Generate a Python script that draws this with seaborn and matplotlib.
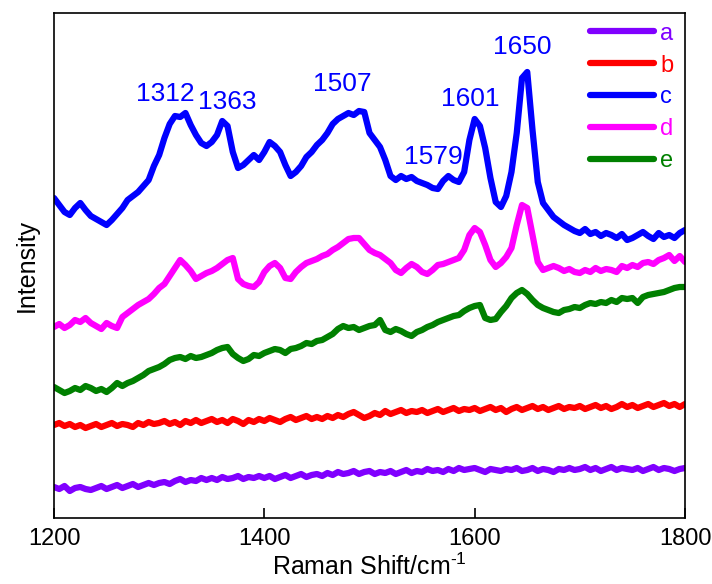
import numpy as np
import pandas as pd
import matplotlib
matplotlib.use("Agg")
import matplotlib.pyplot as plt
import seaborn as sns

# Raman shift grid (cm^-1)
raman_shift = np.arange(1200, 1801, 5)

# Intensities (a.u.)
a_vals = [33,31,34,29,32,33,31,30,32,34,
          31,33,35,32,34,36,33,35,37,35,
          37,38,36,39,41,38,40,39,42,40,
          42,40,43,41,42,44,41,43,42,44,
          42,44,41,43,45,42,44,46,43,45,
          46,44,47,45,48,46,47,49,46,48,
          49,46,48,47,49,46,48,50,47,49,
          48,51,49,50,48,51,49,52,50,51,
          52,50,48,51,50,49,51,50,52,49,
          50,52,49,51,50,48,51,50,52,50,
          51,53,50,52,49,51,53,50,52,51,
          50,52,49,51,53,50,52,51,49,51,
          52]
b_vals = [95,97,94,96,93,95,92,94,96,93,
          95,97,94,96,95,93,97,95,98,96,
          97,99,96,98,95,99,97,100,97,99,
          101,98,100,97,101,99,96,100,98,101,
          99,102,100,98,101,103,100,102,104,101,
          103,101,104,102,105,103,106,108,105,102,
          104,107,105,109,106,108,110,107,109,108,
          110,107,109,111,108,110,112,109,111,110,
          112,109,111,113,110,112,108,111,113,110,
          112,114,111,113,110,112,114,111,113,112,
          114,111,113,115,112,114,111,113,116,113,
          115,112,114,116,113,115,117,114,116,113,
          116]
c_vals = [322,315,308,305,312,317,310,304,301,298,
          295,300,306,312,320,324,328,334,340,354,
          365,382,396,404,403,407,395,385,377,374,
          378,385,399,394,368,352,355,360,365,360,
          368,378,374,368,355,344,348,354,363,368,
          375,380,387,396,401,404,407,405,409,408,
          387,380,373,360,344,340,344,341,343,339,
          337,335,332,331,339,344,340,338,348,380,
          401,394,372,342,318,313,324,348,387,442,
          448,390,338,317,310,303,299,295,292,289,
          287,291,286,288,284,287,285,282,286,280,
          282,285,288,284,281,287,283,285,282,287,
          290]
d_vals = [193,196,192,195,200,198,202,197,194,191,
          197,194,192,203,207,211,215,218,221,226,
          232,236,244,252,260,255,249,241,244,247,
          249,252,256,260,262,241,236,234,233,238,
          248,254,257,252,242,241,248,253,257,259,
          261,264,266,270,273,277,281,282,282,276,
          270,267,265,261,257,250,247,252,256,253,
          248,246,250,255,256,258,260,262,270,285,
          292,288,275,260,253,257,263,272,295,315,
          312,285,258,250,252,254,252,249,251,248,
          247,250,248,252,249,251,250,248,254,252,
          255,253,257,258,256,260,262,265,259,264,
          258]
e_vals = [133,130,127,129,132,130,134,132,129,131,
          128,132,137,134,137,139,142,145,149,151,
          153,156,160,162,163,161,164,162,163,165,
          167,170,172,173,166,162,159,161,165,164,
          167,169,171,170,167,171,172,174,177,176,
          179,180,183,186,191,194,192,193,190,192,
          194,195,200,190,188,191,189,186,184,188,
          190,193,195,198,200,202,204,205,209,212,
          214,215,202,200,201,208,214,222,227,230,
          226,220,215,212,210,208,207,210,211,213,
          212,215,217,216,218,217,220,218,222,221,
          222,217,223,225,226,227,228,230,232,233,
          233]

samples = ["a", "b", "c", "d", "e"]
series = [a_vals, b_vals, c_vals, d_vals, e_vals]
colors = ["#8000ff", "#ff0000", "#0000ff", "#ff00ff", "#008000"]

peak_labels = ["1312", "1363", "1507", "1579", "1601", "1650"]
peak_text_x = [1305.5, 1364.5, 1474, 1560.5, 1595.5, 1645]
peak_text_y = [426, 418, 436, 363, 421, 473]

frames = []
for s, v in zip(samples, series):
    frames.append(pd.DataFrame({"shift": raman_shift, "intensity": v, "sample": s}))
df = pd.concat(frames, ignore_index=True)

sns.set_theme(style="ticks")
plt.rcParams["font.family"] = ["Liberation Sans", "DejaVu Sans"]
plt.rcParams["mathtext.fontset"] = "custom"
plt.rcParams["mathtext.rm"] = "Liberation Sans"

fig = plt.figure(figsize=(7.12, 5.84), dpi=100)
ax = fig.add_axes([54/712, 1-518/584, 631/712, 505/584])

sns.lineplot(data=df, x="shift", y="intensity", hue="sample",
             palette=dict(zip(samples, colors)), linewidth=4.5,
             estimator=None, sort=False, ax=ax)

ax.set_xlim(1200, 1800)
ax.set_ylim(2, 507)
ax.set_xticks([1200, 1400, 1600, 1800])
ax.set_yticks([])
ax.tick_params(axis="x", direction="in", length=7, width=1.2,
               labelsize=17, pad=7, colors="black")
for sp in ax.spines.values():
    sp.set_linewidth(1.2)
    sp.set_color("black")
    sp.set_visible(True)

ax.set_xlabel("Raman Shift/cm$^{\u2010\\mathregular{1}}$", fontsize=18,
              color="black", labelpad=3)
ax.set_ylabel("Intensity", fontsize=18, color="black", labelpad=11)

for t, x, y in zip(peak_labels, peak_text_x, peak_text_y):
    ax.text(x, y, t, color="#0000ff", fontsize=19, ha="center", va="center")

handles, labels = ax.get_legend_handles_labels()
leg = ax.legend(handles, labels, loc="upper right", frameon=False,
                fontsize=17, handlelength=2.7, handletextpad=0.25,
                labelspacing=0.42, labelcolor="linecolor",
                bbox_to_anchor=(1.004, 1.009), borderaxespad=0.2)
for h in leg.get_lines():
    h.set_linewidth(4.5)

fig.savefig("out.png", dpi=100)
